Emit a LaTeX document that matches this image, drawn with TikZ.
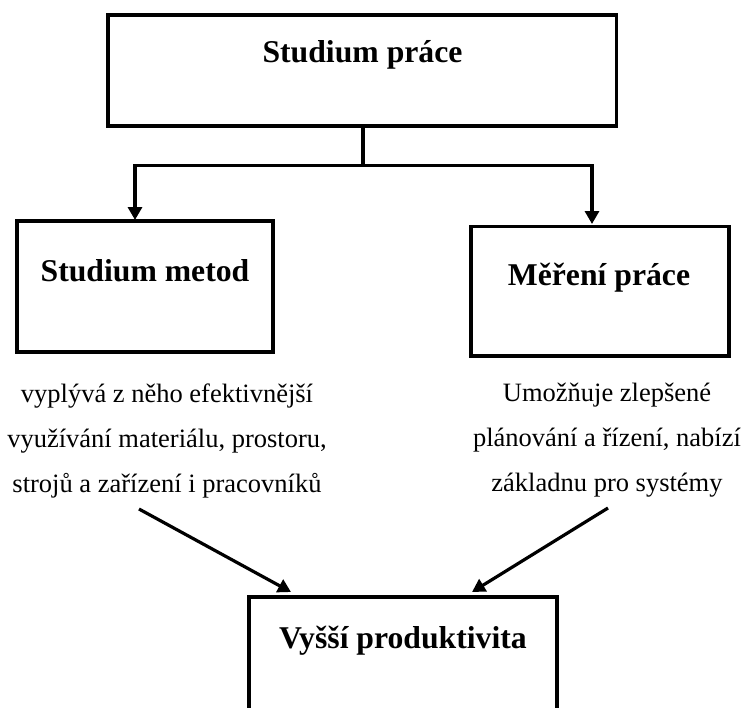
\documentclass[tikz,border=0pt]{standalone}
\usepackage{fontspec}
\setmainfont{Liberation Serif}
\usetikzlibrary{arrows.meta}
\begin{document}
\begin{tikzpicture}[x=1pt,y=-1pt,
  box/.style={draw,line width=3.6pt,inner sep=0pt},
  title/.style={anchor=base,inner sep=0pt,font=\fontsize{31.7}{36}\selectfont\bfseries},
  note/.style={anchor=base,inner sep=0pt,align=center,font=\fontsize{26.5}{45}\selectfont},
  link/.style={line width=3.2pt},
  arr/.style={line width=3.2pt,-{Triangle[width=14pt,length=13pt]}}
]
\useasboundingbox (0,0) rectangle (744,707);
\clip (0,0) rectangle (744,707);

% boxes
\node[box,minimum width=508.5pt,minimum height=111.3pt] (top) at (362.25,70.35) {};
\node[box,minimum width=255.7pt,minimum height=131pt] (left) at (144.85,286.5) {};
\node[box,minimum width=257.7pt,minimum height=129.7pt] (right) at (599.85,291.15) {};
\node[box,minimum width=308pt,minimum height=143pt] (bottom) at (403,668.5) {};

% box titles
\node[title] (ttop) at (362.5,62) {Studium práce};
\node[title] (tleft) at (145,281) {Studium metod};
\node[title] (tright) at (599,285) {Měření práce};
\node[title] (tbottom) at (403,648) {Vyšší produktivita};

% notes under the two middle boxes (base = last line)
\node[note] (nleft) at (167,492) {vyplývá z něho efektivnější\\využívání materiálu, prostoru,\\strojů a zařízení i pracovníků};
\node[note] (nright) at (607,491) {Umožňuje zlepšené\\plánování a řízení, nabízí\\základnu pro systémy};

% fork from the top box
\coordinate (fork) at (363,165.7);
\coordinate (lhit) at (135,220);
\coordinate (rhit) at (592,224);
\draw[link] (fork |- top.south) -- (fork);
\draw[arr] (fork) -| (lhit);
\draw[arr] (fork) -| (rhit);

% converging arrows
\coordinate (ls) at (139,509);
\coordinate (rs) at (608,508);
\coordinate (le) at (291,592);
\coordinate (re) at (472,592);
\draw[arr] (ls) -- (le);
\draw[arr] (rs) -- (re);
\end{tikzpicture}
\end{document}
